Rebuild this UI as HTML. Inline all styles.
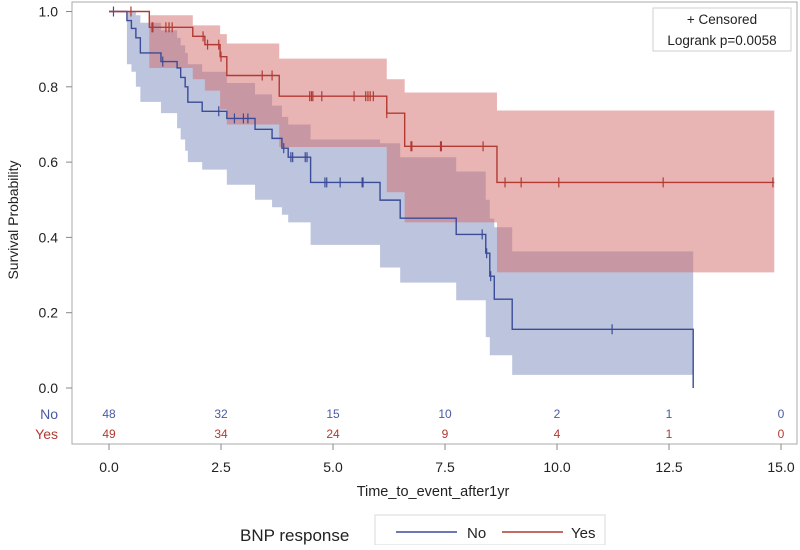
<!DOCTYPE html>
<html><head><meta charset="utf-8"><style>
body{margin:0;background:#fff;}
svg text{font-family:"Liberation Sans",Arial,sans-serif;}
</style></head><body>
<svg id="chart" width="800" height="545" viewBox="0 0 800 545" xmlns="http://www.w3.org/2000/svg">
<rect x="72" y="2" width="725" height="442" fill="#fff" stroke="#a8a8a8"/>
<g id="bands"></g><g id="lines"></g><g id="axes"></g>
<g>
<rect x="653" y="8" width="138" height="43" fill="#fff" stroke="#cfcfcf"/>
<text x="722" y="24" font-size="13.5" text-anchor="middle" fill="#222">+ Censored</text>
<text x="722" y="45" font-size="13.5" text-anchor="middle" fill="#222">Logrank p=0.0058</text>
</g>
<text transform="translate(18,220) rotate(-90)" font-size="14" text-anchor="middle" fill="#222">Survival Probability</text>
<text x="433" y="496" font-size="14.5" text-anchor="middle" fill="#222">Time_to_event_after1yr</text>
<g>
<text x="240" y="541" font-size="17" fill="#222">BNP response</text>
<rect x="375" y="515" width="230" height="30" fill="#fff" stroke="#d8d8d8"/>
<line x1="396" y1="532" x2="457" y2="532" stroke="#3a4b98" stroke-width="1.5"/>
<text x="467" y="538" font-size="15" fill="#222">No</text>
<line x1="502" y1="532" x2="563" y2="532" stroke="#b23a32" stroke-width="1.5"/>
<text x="571" y="538" font-size="15" fill="#222">Yes</text>
</g>
</svg>
<script>
// Blue (No) group
const noTimes=[0,0.4,0.5,0.6,0.7,1.16,1.52,1.6,1.7,1.76,2.08,2.63,3.26,3.64,3.86,4.0,4.5,6.05,6.5,7.75,8.41,8.5,8.6,9.0];
const noSurv=[1,0.976,0.955,0.93,0.89,0.867,0.85,0.825,0.80,0.759,0.735,0.716,0.687,0.663,0.637,0.613,0.546,0.499,0.451,0.408,0.358,0.297,0.236,0.156];
const noLower=[1,0.86,0.84,0.80,0.76,0.73,0.69,0.66,0.63,0.60,0.58,0.54,0.50,0.48,0.46,0.44,0.38,0.32,0.28,0.233,0.135,0.087,0.087,0.035];
const noUpper=[1,1,1,0.99,0.97,0.95,0.93,0.91,0.89,0.86,0.84,0.81,0.78,0.75,0.72,0.70,0.66,0.65,0.613,0.575,0.50,0.45,0.427,0.363];
const noEnd=13.04;
const noCensor=[0.1,1.2,2.45,2.8,3.0,3.1,3.9,4.06,4.1,4.38,4.42,4.82,4.86,5.16,5.65,5.67,8.33,8.43,8.52,11.23];
// Red (Yes) group
const yesTimes=[0,0.9,1.87,2.14,2.48,2.63,3.8,6.2,6.6,8.66];
const yesSurv=[1,0.958,0.934,0.912,0.88,0.83,0.775,0.73,0.642,0.546];
const yesLower=[1,0.85,0.82,0.79,0.74,0.70,0.64,0.52,0.44,0.307];
const yesUpper=[1,0.99,0.963,0.963,0.94,0.915,0.875,0.82,0.785,0.737];
const yesEnd=14.85;
const yesCensor=[0.49,0.96,0.98,1.27,1.34,1.41,2.1,2.2,2.45,2.5,3.42,3.64,4.48,4.52,4.55,4.75,5.47,5.73,5.78,5.83,5.9,6.2,6.74,6.76,7.4,7.42,8.35,8.84,9.2,10.04,12.37,14.82];
// axes & at-risk
const xTicks=[0,2.5,5,7.5,10,12.5,15];
const xTickLabels=["0.0","2.5","5.0","7.5","10.0","12.5","15.0"];
const yTicks=[0,0.2,0.4,0.6,0.8,1.0];
const yTickLabels=["0.0","0.2","0.4","0.6","0.8","1.0"];
const atRiskNo=[48,32,15,10,2,1,0];
const atRiskYes=[49,34,24,9,4,1,0];

const X=t=>109+t*44.8;
const Y=p=>388-p*376.5;
const NS="http://www.w3.org/2000/svg";
function mk(tag,parent){const e=document.createElementNS(NS,tag);parent.appendChild(e);return e;}
const bands=document.getElementById('bands'),lines=document.getElementById('lines'),axes=document.getElementById('axes');

function stepVal(times,vals,t){let v=vals[0];for(let i=0;i<times.length;i++){if(times[i]<=t)v=vals[i];}return v;}
function bandPath(times,lo,hi,start,end){
  let d='M'+X(times[start])+','+Y(hi[start]);
  for(let i=start;i<times.length;i++){const x2=X(i+1<times.length?times[i+1]:end);d+=' L'+X(times[i])+','+Y(hi[i])+' L'+x2+','+Y(hi[i]);}
  for(let i=times.length-1;i>=start;i--){const x2=X(i+1<times.length?times[i+1]:end);d+=' L'+x2+','+Y(lo[i])+' L'+X(times[i])+','+Y(lo[i]);}
  return d+'Z';
}
function linePath(times,s,end,drop){
  let d='M'+X(times[0])+','+Y(s[0]);
  for(let i=1;i<times.length;i++){d+=' H'+X(times[i])+' V'+Y(s[i]);}
  d+=' H'+X(end);
  if(drop)d+=' V'+Y(0);
  return d;
}
let b=mk('path',bands);
b.setAttribute('d',bandPath(noTimes,noLower,noUpper,1,noEnd));
b.setAttribute('fill','#bdc5de');


b=mk('path',bands);
b.setAttribute('d',bandPath(yesTimes,yesLower,yesUpper,1,yesEnd));
b.setAttribute('fill','rgb(211,105,105)');b.setAttribute('fill-opacity','0.5');



function series(times,s,end,drop,color,cens,name){
  const p=mk('path',lines);
  p.setAttribute('d',linePath(times,s,end,drop));
  p.setAttribute('fill','none');p.setAttribute('stroke',color);p.setAttribute('stroke-width','1.4');
  
  
  cens.forEach(t=>{
    const v=stepVal(times,s,t);const l=mk('line',lines);
    l.setAttribute('x1',X(t));l.setAttribute('x2',X(t));l.setAttribute('y1',Y(v)-5);l.setAttribute('y2',Y(v)+5);
    l.setAttribute('stroke',color);l.setAttribute('stroke-width','1.2');
    
    
  });
}
series(noTimes,noSurv,noEnd,true,'#3a4b98',noCensor,'no');
series(yesTimes,yesSurv,yesEnd,false,'#b23a32',yesCensor,'yes');

xTicks.forEach((t,i)=>{
  const l=mk('line',axes);l.setAttribute('x1',X(t));l.setAttribute('x2',X(t));l.setAttribute('y1',444);l.setAttribute('y2',450);l.setAttribute('stroke','#888');
  
  
  const tx=mk('text',axes);tx.setAttribute('x',X(t));tx.setAttribute('y',472);tx.setAttribute('text-anchor','middle');tx.setAttribute('font-size','14');tx.setAttribute('fill','#222');tx.textContent=xTickLabels[i];
  
  
  const a=mk('text',axes);a.setAttribute('x',X(t));a.setAttribute('y',418);a.setAttribute('text-anchor','middle');a.setAttribute('font-size','12');a.setAttribute('fill','#4a5aa0');a.textContent=atRiskNo[i];
  
  
  const c=mk('text',axes);c.setAttribute('x',X(t));c.setAttribute('y',438);c.setAttribute('text-anchor','middle');c.setAttribute('font-size','12');c.setAttribute('fill','#b23a32');c.textContent=atRiskYes[i];
  
  
});
yTicks.forEach((p,i)=>{
  const l=mk('line',axes);l.setAttribute('x1',66);l.setAttribute('x2',72);l.setAttribute('y1',Y(p));l.setAttribute('y2',Y(p));l.setAttribute('stroke','#888');
  
  
  const tx=mk('text',axes);tx.setAttribute('x',58);tx.setAttribute('y',Y(p)+5);tx.setAttribute('text-anchor','end');tx.setAttribute('font-size','14');tx.setAttribute('fill','#222');tx.textContent=yTickLabels[i];
  
  
});
let r=mk('text',axes);r.setAttribute('x',58);r.setAttribute('y',419);r.setAttribute('text-anchor','end');r.setAttribute('font-size','14');r.setAttribute('fill','#4a5aa0');r.textContent='No';


r=mk('text',axes);r.setAttribute('x',58);r.setAttribute('y',439);r.setAttribute('text-anchor','end');r.setAttribute('font-size','14');r.setAttribute('fill','#b23a32');r.textContent='Yes';


</script>
</body></html>
